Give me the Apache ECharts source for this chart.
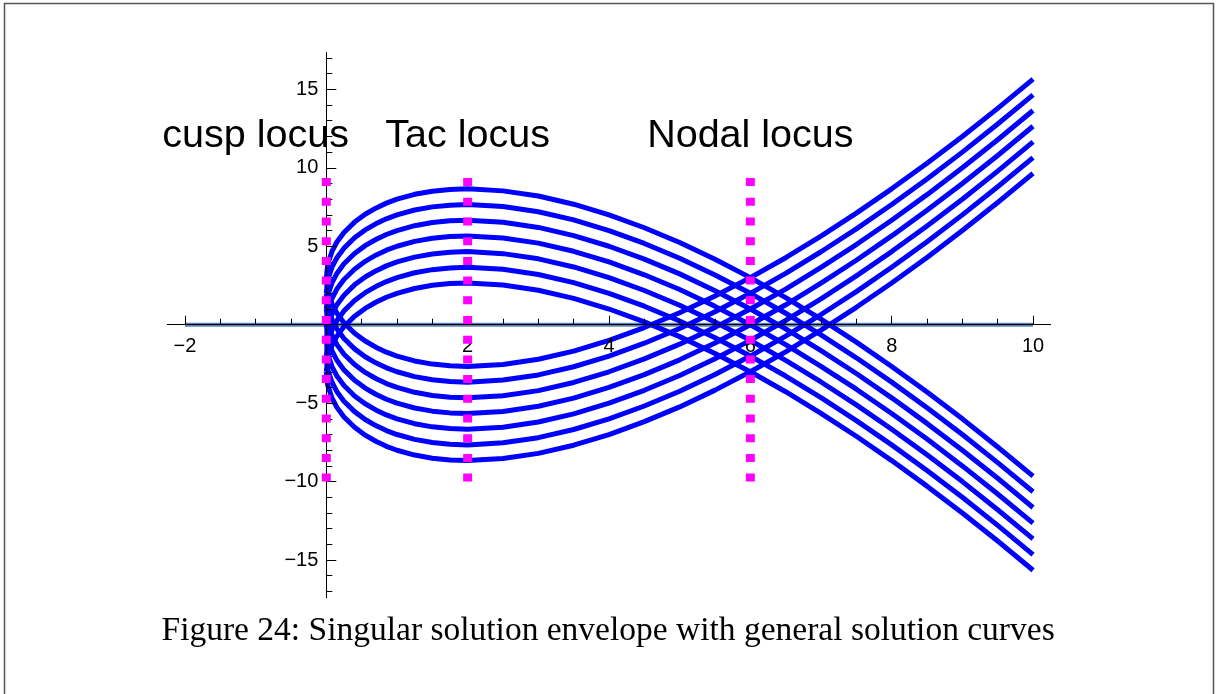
<!DOCTYPE html>
<html>
<head>
<meta charset="utf-8">
<script src="https://cdn.jsdelivr.net/npm/echarts@6/dist/echarts.min.js"></script>
<style>
  html, body { margin: 0; padding: 0; background: #fff; }
  #chart { width: 1217px; height: 694px; }
</style>
</head>
<body>
<div id="chart"></div>
<script>
// x samples shared by every solution curve
const xs = [0, 0.02, 0.08, 0.15, 0.25, 0.4, 0.55, 0.7, 0.85, 1, 1.25, 1.5, 1.75, 2, 2.5, 3, 3.5, 4, 4.5, 5, 5.5, 6, 6.5, 7, 7.5, 8, 8.5, 9, 9.5, 10]

// upper branches (peak near x = 2), one per shift c = 3 .. -3
const upperC3 = [3, 3.85, 4.67, 5.27, 5.88, 6.54, 7.04, 7.43, 7.75, 8, 8.31, 8.51, 8.62, 8.66, 8.53, 8.2, 7.68, 7, 6.18, 5.24, 4.17, 3, 1.73, 0.35, -1.11, -2.66, -4.29, -6, -7.79, -9.65]
const upperC2 = [2, 2.85, 3.67, 4.27, 4.88, 5.54, 6.04, 6.43, 6.75, 7, 7.31, 7.51, 7.62, 7.66, 7.53, 7.2, 6.68, 6, 5.18, 4.24, 3.17, 2, 0.73, -0.65, -2.11, -3.66, -5.29, -7, -8.79, -10.65]
const upperC1 = [1, 1.85, 2.67, 3.27, 3.88, 4.54, 5.04, 5.43, 5.75, 6, 6.31, 6.51, 6.62, 6.66, 6.53, 6.2, 5.68, 5, 4.18, 3.24, 2.17, 1, -0.27, -1.65, -3.11, -4.66, -6.29, -8, -9.79, -11.65]
const upperC0 = [0, 0.85, 1.67, 2.27, 2.88, 3.54, 4.04, 4.43, 4.75, 5, 5.31, 5.51, 5.62, 5.66, 5.53, 5.2, 4.68, 4, 3.18, 2.24, 1.17, 0, -1.27, -2.65, -4.11, -5.66, -7.29, -9, -10.79, -12.65]
const upperCm1 = [-1, -0.15, 0.67, 1.27, 1.88, 2.54, 3.04, 3.43, 3.75, 4, 4.31, 4.51, 4.62, 4.66, 4.53, 4.2, 3.68, 3, 2.18, 1.24, 0.17, -1, -2.27, -3.65, -5.11, -6.66, -8.29, -10, -11.79, -13.65]
const upperCm2 = [-2, -1.15, -0.33, 0.27, 0.88, 1.54, 2.04, 2.43, 2.75, 3, 3.31, 3.51, 3.62, 3.66, 3.53, 3.2, 2.68, 2, 1.18, 0.24, -0.83, -2, -3.27, -4.65, -6.11, -7.66, -9.29, -11, -12.79, -14.65]
const upperCm3 = [-3, -2.15, -1.33, -0.73, -0.12, 0.54, 1.04, 1.43, 1.75, 2, 2.31, 2.51, 2.62, 2.66, 2.53, 2.2, 1.68, 1, 0.18, -0.76, -1.83, -3, -4.27, -5.65, -7.11, -8.66, -10.29, -12, -13.79, -15.65]

// lower branches (trough near x = 2)
const lowerC3 = [3, 2.15, 1.33, 0.73, 0.12, -0.54, -1.04, -1.43, -1.75, -2, -2.31, -2.51, -2.62, -2.66, -2.53, -2.2, -1.68, -1, -0.18, 0.76, 1.83, 3, 4.27, 5.65, 7.11, 8.66, 10.29, 12, 13.79, 15.65]
const lowerC2 = [2, 1.15, 0.33, -0.27, -0.88, -1.54, -2.04, -2.43, -2.75, -3, -3.31, -3.51, -3.62, -3.66, -3.53, -3.2, -2.68, -2, -1.18, -0.24, 0.83, 2, 3.27, 4.65, 6.11, 7.66, 9.29, 11, 12.79, 14.65]
const lowerC1 = [1, 0.15, -0.67, -1.27, -1.88, -2.54, -3.04, -3.43, -3.75, -4, -4.31, -4.51, -4.62, -4.66, -4.53, -4.2, -3.68, -3, -2.18, -1.24, -0.17, 1, 2.27, 3.65, 5.11, 6.66, 8.29, 10, 11.79, 13.65]
const lowerC0 = [0, -0.85, -1.67, -2.27, -2.88, -3.54, -4.04, -4.43, -4.75, -5, -5.31, -5.51, -5.62, -5.66, -5.53, -5.2, -4.68, -4, -3.18, -2.24, -1.17, 0, 1.27, 2.65, 4.11, 5.66, 7.29, 9, 10.79, 12.65]
const lowerCm1 = [-1, -1.85, -2.67, -3.27, -3.88, -4.54, -5.04, -5.43, -5.75, -6, -6.31, -6.51, -6.62, -6.66, -6.53, -6.2, -5.68, -5, -4.18, -3.24, -2.17, -1, 0.27, 1.65, 3.11, 4.66, 6.29, 8, 9.79, 11.65]
const lowerCm2 = [-2, -2.85, -3.67, -4.27, -4.88, -5.54, -6.04, -6.43, -6.75, -7, -7.31, -7.51, -7.62, -7.66, -7.53, -7.2, -6.68, -6, -5.18, -4.24, -3.17, -2, -0.73, 0.65, 2.11, 3.66, 5.29, 7, 8.79, 10.65]
const lowerCm3 = [-3, -3.85, -4.67, -5.27, -5.88, -6.54, -7.04, -7.43, -7.75, -8, -8.31, -8.51, -8.62, -8.66, -8.53, -8.2, -7.68, -7, -6.18, -5.24, -4.17, -3, -1.73, -0.35, 1.11, 2.66, 4.29, 6, 7.79, 9.65]

const curves = [upperC3, upperC2, upperC1, upperC0, upperCm1, upperCm2, upperCm3,
  lowerC3, lowerC2, lowerC1, lowerC0, lowerCm1, lowerCm2, lowerCm3]

// dotted loci lines (x position, y from / to)
const lociX = [0, 2, 6]
const lociY = [-10, 10]
// locus labels
const labelNames = ['cusp locus', 'Tac locus', 'Nodal locus']
const labelX = [-1, 2, 6]
const labelY = [12, 12, 12]
// y = 0 reference line
const baseX = [-2, 10]

// ticks
const xMajor = [-2, 0, 2, 4, 6, 8, 10]
const xLabels = [-2, 2, 4, 6, 8, 10]
const xMinor = [-2, -1.5, -1, -0.5, 0, 0.5, 1, 1.5, 2, 2.5, 3, 3.5, 4, 4.5, 5, 5.5, 6, 6.5, 7, 7.5, 8, 8.5, 9, 9.5, 10]
const yMajor = [-15, -10, -5, 5, 10, 15]
const yLabels = [-15, -10, -5, 5, 10, 15]
const yMinor = [-17, -16, -15, -14, -13, -12, -11, -10, -9, -8, -7, -6, -5, -4, -3, -2, -1, 1, 2, 3, 4, 5, 6, 7, 8, 9, 10, 11, 12, 13, 14, 15, 16, 17]

const caption = 'Figure 24: Singular solution envelope with general solution curves'

const X_MIN = -2.25, X_MAX = 10.25, Y_MIN = -17.4, Y_MAX = 17.35
const GRID = { left: 167.3, right: 166.3, top: 52.5, bottom: 96.3 }
const W = 1217, H = 694
// 坐标轴移到零点（用 offset 代替 onZero）
const gridW = W - GRID.left - GRID.right
const gridH = H - GRID.top - GRID.bottom
const xAxisOffset = -(gridH * (0 - Y_MIN) / (Y_MAX - Y_MIN))
const yAxisOffset = -(gridW * (0 - X_MIN) / (X_MAX - X_MIN))

const fmt = v => (v < 0 ? '\u2212' + (-v) : String(v))
const tickFont = { fontFamily: 'Liberation Sans', fontSize: 20, color: '#000' }

const chart = echarts.init(document.getElementById('chart'), null, { renderer: 'canvas' })

const series = []
// 基线
series.push({
  type: 'line',
  z: 1,
  silent: true,
  showSymbol: false,
  data: baseX.map(x => [x, 0]),
  lineStyle: { color: '#5d80b8', width: 4 }
})
// 解曲线
curves.forEach(ys => {
  series.push({
    type: 'line',
    z: 2,
    silent: true,
    showSymbol: false,
    data: xs.map((x, i) => [x, ys[i]]),
    lineStyle: { color: '#0000ff', width: 5, join: 'round' }
  })
})
// 点线
lociX.forEach(x => {
  series.push({
    type: 'line',
    z: 4,
    silent: true,
    showSymbol: false,
    data: lociY.map(y => [x, y]),
    lineStyle: { color: '#ff00ff', width: 9, type: [8, 11.7], cap: 'butt' }
  })
})
// 文字
series.push({
  type: 'scatter',
  z: 5,
  silent: true,
  symbolSize: 0,
  itemStyle: { opacity: 1 },
  data: labelNames.map((n, i) => [labelX[i], labelY[i], n]),
  label: {
    show: true,
    position: 'inside',
    formatter: p => p.data[2],
    fontFamily: 'Liberation Sans',
    fontSize: 39.5,
    color: '#000',
    opacity: 1,
    textBorderWidth: 0
  }
})

const axisCommon = { type: 'value', splitLine: { show: false }, z: 3 }

chart.setOption({
  animation: false,
  backgroundColor: '#fff',
  grid: GRID,
  xAxis: [{
    ...axisCommon, min: X_MIN, max: X_MAX, position: 'bottom', offset: xAxisOffset,
    axisLine: { onZero: false, lineStyle: { color: '#000', width: 1 } },
    axisTick: { inside: true, length: 9, customValues: xMajor, lineStyle: { color: '#000' } },
    axisLabel: { customValues: xLabels, formatter: fmt, margin: 12, ...tickFont }
  }, {
    ...axisCommon, min: X_MIN, max: X_MAX, position: 'bottom', offset: xAxisOffset,
    axisLine: { onZero: false, lineStyle: { opacity: 0 } },
    axisTick: { inside: true, length: 6, customValues: xMinor, lineStyle: { color: '#000' } },
    axisLabel: { show: false }
  }],
  yAxis: [{
    ...axisCommon, min: Y_MIN, max: Y_MAX, position: 'left', offset: yAxisOffset,
    axisLine: { onZero: false, lineStyle: { color: '#000', width: 1 } },
    axisTick: { inside: true, length: 10, customValues: yMajor, lineStyle: { color: '#000' } },
    axisLabel: { customValues: yLabels, formatter: fmt, margin: 8, ...tickFont }
  }, {
    ...axisCommon, min: Y_MIN, max: Y_MAX, position: 'left', offset: yAxisOffset,
    axisLine: { onZero: false, lineStyle: { opacity: 0 } },
    axisTick: { inside: true, length: 6, customValues: yMinor, lineStyle: { color: '#000' } },
    axisLabel: { show: false }
  }],
  graphic: [{
    type: 'rect',
    silent: true,
    shape: { x: 4.5, y: 3.5, width: 1209, height: 760 },
    style: { fill: 'none', stroke: '#555', lineWidth: 1.5 }
  }, {
    type: 'text',
    silent: true,
    left: 161.5,
    top: 614,
    style: { text: caption, fontFamily: 'Liberation Serif', fontSize: 33.5, fill: '#000' }
  }],
  series: series
})
</script>
</body>
</html>
